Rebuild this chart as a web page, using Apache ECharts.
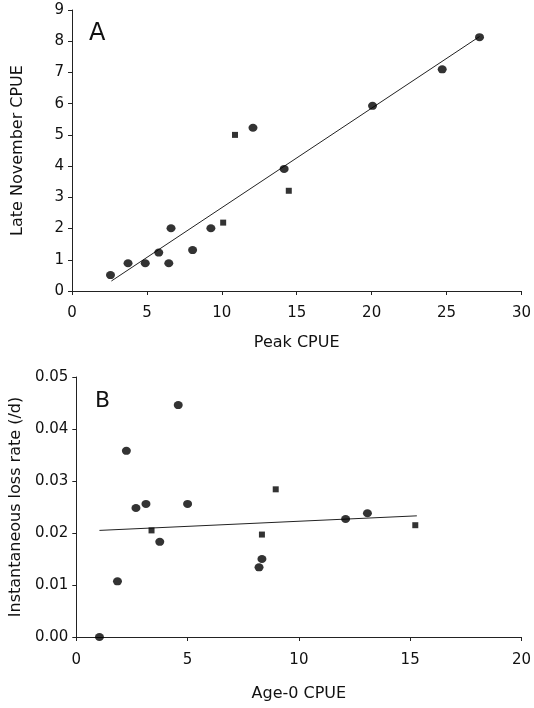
<!DOCTYPE html>
<html>
<head>
<meta charset="utf-8">
<script src="https://cdn.jsdelivr.net/npm/echarts@6/dist/echarts.min.js"></script>
<style>html,body{margin:0;padding:0;background:#fff}#c{width:534px;height:708px}</style>
</head>
<body>
<div id="c"></div>
<script>
// Panel A: Peak CPUE vs Late November CPUE
var aCircles = [[2.57,0.51],[3.74,0.89],[4.89,0.89],[5.79,1.23],[6.46,0.89],[6.61,2.01],[8.05,1.31],[9.27,2.01],[12.08,5.23],[14.16,3.91],[20.06,5.93],[24.71,7.10],[27.2,8.13]];
var aSquares = [[10.09,2.19],[10.88,5.00],[14.47,3.21]];
var aTrend = [[2.63,0.32],[27.2,8.15]];
// Panel B: Age-0 CPUE vs Instantaneous loss rate
var bCircles = [[1.04,0.0],[1.85,0.0107],[2.25,0.0358],[2.68,0.0248],[3.13,0.0256],[3.75,0.0183],[4.58,0.0446],[5.0,0.0256],[8.21,0.0134],[8.34,0.0150],[12.1,0.0227],[13.08,0.0238]];
var bSquares = [[3.38,0.0205],[8.34,0.0197],[8.96,0.0284],[15.23,0.0215]];
var bTrend = [[1.04,0.0205],[15.3,0.0233]];

var FONT = 'DejaVu Sans';
function lbl(margin, fmt){
  var o = {color:'#111',fontFamily:FONT,fontSize:15,margin:margin};
  if (fmt) o.formatter = fmt;
  return o;
}
function ax(o){
  var base = {
    type:'value',
    axisLine:{show:true,onZero:false,lineStyle:{color:'#222',width:1}},
    axisTick:{show:true,inside:false,length:4,lineStyle:{color:'#222'}},
    splitLine:{show:false},
    nameTextStyle:{color:'#111',fontFamily:FONT,fontSize:16},
    nameLocation:'middle'
  };
  return Object.assign(base,o);
}

var chart = echarts.init(document.getElementById('c'));
chart.setOption({
  animation:false,
  title:[
    {text:'A',left:84,top:17,textStyle:{fontFamily:FONT,fontSize:24,fontWeight:'normal',color:'#111'}},
    {text:'B',left:90,top:385,textStyle:{fontFamily:FONT,fontSize:22,fontWeight:'normal',color:'#111'}}
  ],
  grid:[
    {left:72,right:10,top:10,height:281},
    {left:74,right:10,top:377,height:260}
  ],
  xAxis:[
    ax({gridIndex:0,min:0,max:30,interval:5,name:'Peak CPUE',nameGap:44,axisLabel:lbl(15)}),
    ax({gridIndex:1,min:0,max:20,interval:5,name:'Age-0 CPUE',nameGap:49,axisLabel:lbl(16)})
  ],
  yAxis:[
    ax({gridIndex:0,min:0,max:9,interval:1,name:'Late November CPUE',nameGap:46,axisLabel:lbl(8)}),
    ax({gridIndex:1,min:0,max:0.05,interval:0.01,name:'Instantaneous loss rate (/d)',nameGap:52,axisLabel:lbl(8,function(v){return v.toFixed(2);})})
  ],
  series:[
    {type:'line',xAxisIndex:0,yAxisIndex:0,data:aTrend,symbol:'none',lineStyle:{color:'#222',width:1},z:1},
    {type:'scatter',xAxisIndex:0,yAxisIndex:0,data:aCircles,symbol:'circle',symbolSize:[9,8],itemStyle:{color:'#000'},z:3},
    {type:'scatter',xAxisIndex:0,yAxisIndex:0,data:aSquares,symbol:'rect',symbolSize:6,itemStyle:{color:'#000'},z:3},
    {type:'line',xAxisIndex:1,yAxisIndex:1,data:bTrend,symbol:'none',lineStyle:{color:'#222',width:1},z:1},
    {type:'scatter',xAxisIndex:1,yAxisIndex:1,data:bCircles,symbol:'circle',symbolSize:[9,8],itemStyle:{color:'#000'},z:3},
    {type:'scatter',xAxisIndex:1,yAxisIndex:1,data:bSquares,symbol:'rect',symbolSize:6,itemStyle:{color:'#000'},z:3}
  ]
});
</script>
</body>
</html>
